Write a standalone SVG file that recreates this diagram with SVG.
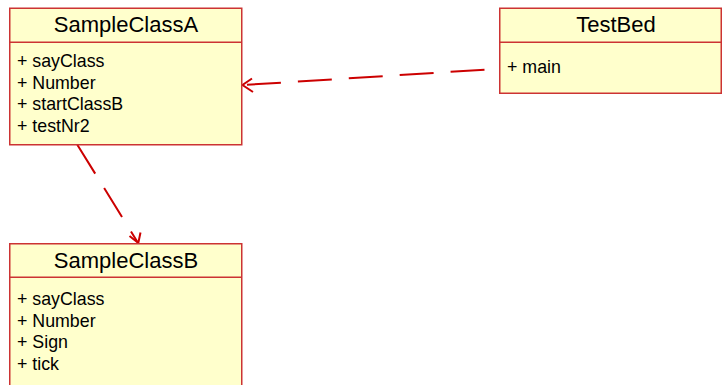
<svg xmlns="http://www.w3.org/2000/svg" width="722" height="385" viewBox="0 0 722 385">
<style>
.box{fill:#ffffcc;stroke:#cc3333;stroke-width:1.5}
.div{stroke:#cc3333;stroke-width:1.5}
.title{font-family:"Liberation Sans",Arial,sans-serif;font-size:22px;fill:#000;text-anchor:middle}
.mem{font-family:"Liberation Sans",Arial,sans-serif;font-size:17.8px;fill:#000}
.dep{fill:none;stroke:#cc0000;stroke-width:2;stroke-dasharray:34 17}
.head{fill:none;stroke:#cc0000;stroke-width:2}
</style>
<rect width="722" height="385" fill="#ffffff"/>
<g id="connectors">
<path class="dep" d="M484.5 69.7 L244 85"/>
<path class="head" d="M252 78.5 L242.5 85 L253 92"/>
<path class="dep" d="M77.3 144.7 L137.5 242"/>
<path class="head" d="M129.5 236 L138.3 243 L140.5 232.5"/>
</g>
<g id="SampleClassA">
<rect class="box" x="9.75" y="8.25" width="232" height="136.5"/>
<line class="div" x1="9.75" y1="42.25" x2="241.75" y2="42.25"/>
<text class="title" x="126" y="32">SampleClassA</text>
<text class="mem" x="17" y="67">+ sayClass</text>
<text class="mem" x="17" y="88.5">+ Number</text>
<text class="mem" x="17" y="110">+ startClassB</text>
<text class="mem" x="17" y="131.5">+ testNr2</text>
</g>
<g id="TestBed">
<rect class="box" x="499.75" y="8.25" width="221.5" height="85"/>
<line class="div" x1="499.75" y1="42.25" x2="721.25" y2="42.25"/>
<text class="title" x="616" y="32">TestBed</text>
<text class="mem" x="507" y="73">+ main</text>
</g>
<g id="SampleClassB">
<rect class="box" x="9.75" y="243.75" width="232" height="150"/>
<line class="div" x1="9.75" y1="277.25" x2="241.75" y2="277.25"/>
<text class="title" x="126" y="267.5">SampleClassB</text>
<text class="mem" x="17" y="305">+ sayClass</text>
<text class="mem" x="17" y="326.5">+ Number</text>
<text class="mem" x="17" y="348">+ Sign</text>
<text class="mem" x="17" y="369.5">+ tick</text>
</g>
</svg>
